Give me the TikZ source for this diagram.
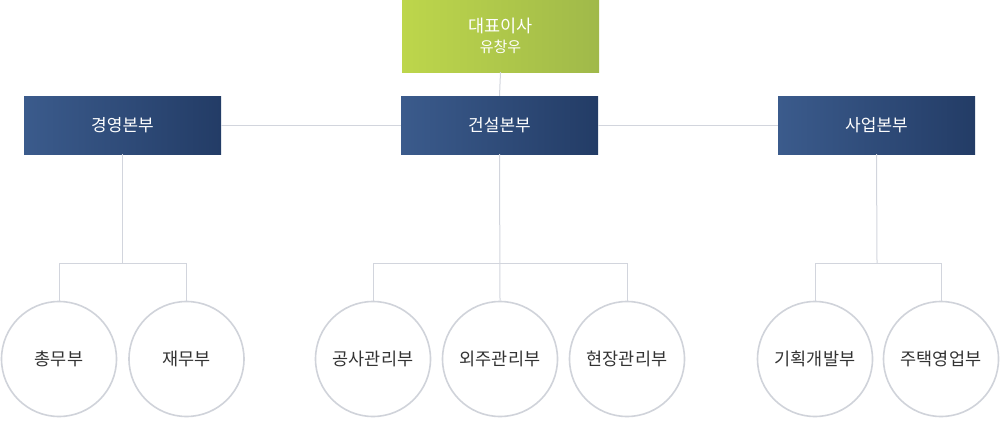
\documentclass[tikz,border=0pt]{standalone}
\usepackage{fontspec}
\setmainfont{Noto Sans CJK KR}
\definecolor{linegray}{HTML}{D2D5DD}
\definecolor{circgray}{HTML}{D0D3DA}
\definecolor{greenA}{HTML}{BDD64B}
\definecolor{greenB}{HTML}{A0B94A}
\definecolor{blueA}{HTML}{3B5B8C}
\definecolor{blueB}{HTML}{233C66}
\definecolor{txt}{HTML}{333333}
\tikzset{
  ceobox/.style={rectangle, minimum width=197pt, minimum height=72pt, inner sep=0pt,
    left color=greenA, right color=greenB, text=white, align=center,
    font=\fontsize{17.5}{20}\selectfont},
  divbox/.style={rectangle, minimum width=197pt, minimum height=58pt, inner sep=0pt,
    left color=blueA, right color=blueB, text=white, font=\fontsize{17}{20}\selectfont},
  dept/.style={circle, draw=circgray, line width=1.6pt, fill=white, minimum size=115pt,
    inner sep=0pt, text=txt, font=\fontsize{17.5}{20}\selectfont},
  conn/.style={draw=linegray, line width=1pt}
}
\begin{document}
\begin{tikzpicture}[x=1pt,y=-1pt]
\useasboundingbox (0,0) rectangle (1000,420);
\node[ceobox] (ceo) at (500.5,36) {\raisebox{0pt}[0pt][0pt]{}대표이사\\{\fontsize{15}{20}\selectfont 유창우}};
\node[divbox] (b1) at (122.5,125) {경영본부};
\node[divbox] (b2) at (499.5,125) {건설본부};
\node[divbox] (b3) at (876.5,125) {사업본부};
\node[dept] (c1) at (59,359) {총무부};
\node[dept] (c2) at (186.5,359) {재무부};
\node[dept] (c3) at (373,359) {공사관리부};
\node[dept] (c4) at (500,359) {외주관리부};
\node[dept] (c5) at (627,359) {현장관리부};
\node[dept] (c6) at (815,359) {기획개발부};
\node[dept] (c7) at (941,359) {주택영업부};
\coordinate (j1) at (122.5,263);
\coordinate (j2) at (500,263);
\coordinate (j3) at (877,263);
\path[conn] (ceo.south) -- (b2.north);
\path[conn] (b1.east) -- (b2.west);
\path[conn] (b2.east) -- (b3.west);
\path[conn] (b1.south) -- (j1);
\path[conn] (c1.north) -- (c1.north |- j1) -- (c2.north |- j1) -- (c2.north);
\path[conn] (b2.south) -- (c4.north);
\path[conn] (c3.north) -- (c3.north |- j2) -- (c5.north |- j2) -- (c5.north);
\path[conn] (b3.south) -- (j3);
\path[conn] (c6.north) -- (c6.north |- j3) -- (c7.north |- j3) -- (c7.north);
\end{tikzpicture}
\end{document}
